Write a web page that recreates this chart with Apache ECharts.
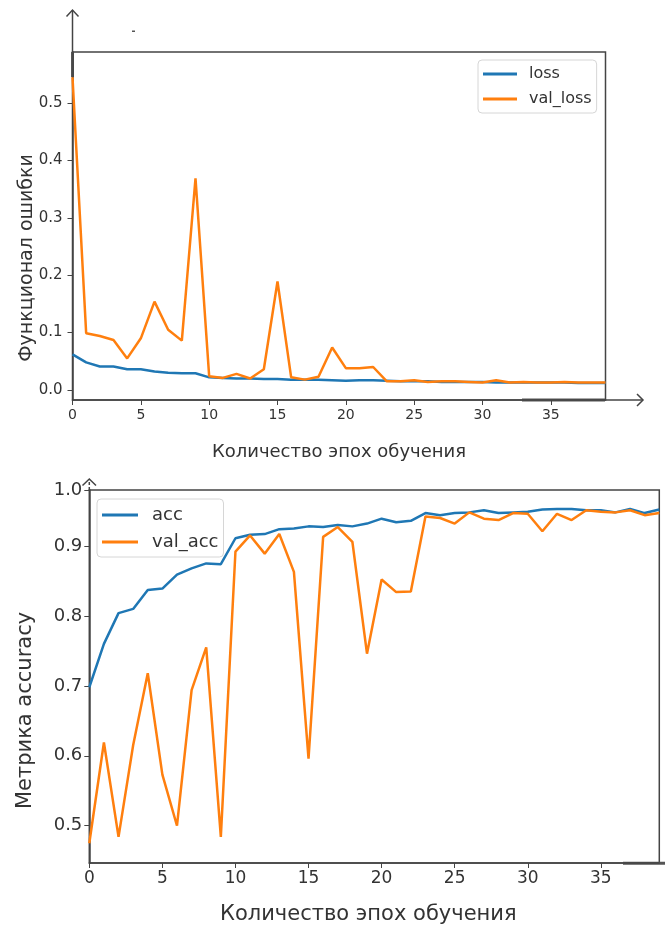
<!DOCTYPE html>
<html>
<head>
<meta charset="utf-8">
<script src="https://cdn.jsdelivr.net/npm/echarts@6/dist/echarts.min.js"></script>
<style>
  html, body { margin: 0; padding: 0; background: #fff; }
  #chart { width: 665px; height: 926px; }
</style>
</head>
<body>
<div id="chart"></div>
<script>
// эпохи обучения
const epochs = [0, 1, 2, 3, 4, 5, 6, 7, 8, 9, 10, 11, 12, 13, 14, 15, 16, 17, 18, 19,
  20, 21, 22, 23, 24, 25, 26, 27, 28, 29, 30, 31, 32, 33, 34, 35, 36, 37, 38, 39];

const loss = [0.062, 0.048, 0.041, 0.041, 0.036, 0.036, 0.032, 0.030, 0.029, 0.029,
  0.022, 0.021, 0.020, 0.020, 0.019, 0.019, 0.018, 0.018, 0.018, 0.017,
  0.016, 0.017, 0.017, 0.016, 0.015, 0.015, 0.015, 0.014, 0.014, 0.014,
  0.014, 0.013, 0.013, 0.013, 0.013, 0.013, 0.013, 0.012, 0.012, 0.012];
const valLoss = [0.545, 0.099, 0.094, 0.087, 0.055, 0.090, 0.154, 0.105, 0.086, 0.369,
  0.024, 0.021, 0.028, 0.020, 0.036, 0.189, 0.022, 0.018, 0.023, 0.074,
  0.038, 0.038, 0.040, 0.015, 0.015, 0.017, 0.014, 0.015, 0.015, 0.014,
  0.013, 0.017, 0.013, 0.014, 0.013, 0.013, 0.014, 0.013, 0.013, 0.013];

const acc = [0.698, 0.760, 0.804, 0.810, 0.837, 0.839, 0.859, 0.868, 0.875, 0.874,
  0.911, 0.916, 0.917, 0.924, 0.925, 0.928, 0.927, 0.930, 0.928, 0.932,
  0.939, 0.934, 0.936, 0.947, 0.944, 0.947, 0.948, 0.951, 0.947, 0.948,
  0.949, 0.952, 0.953, 0.953, 0.951, 0.951, 0.948, 0.953, 0.947, 0.952];
const valAcc = [0.475, 0.619, 0.484, 0.615, 0.718, 0.573, 0.500, 0.694, 0.755, 0.484,
  0.892, 0.915, 0.889, 0.917, 0.863, 0.596, 0.913, 0.927, 0.906, 0.746,
  0.852, 0.834, 0.835, 0.942, 0.940, 0.932, 0.948, 0.939, 0.937, 0.947,
  0.946, 0.921, 0.946, 0.937, 0.951, 0.949, 0.948, 0.951, 0.944, 0.947];

// подписи осей
const xTicks = [0, 5, 10, 15, 20, 25, 30, 35];
const lossTicks = [0.0, 0.1, 0.2, 0.3, 0.4, 0.5];
const accTicks = [0.5, 0.6, 0.7, 0.8, 0.9, 0.98]; // верхняя подпись "1.0" стоит у края рамки

const BLUE = "#1f77b4";
const ORANGE = "#ff7f0e";
const AXIS = "#444";
const FONT = "DejaVu Sans";

const pairs = (ys) => epochs.map((e, i) => [e, ys[i]]);

function xAxisFor(gridIndex, fontSize, margin, name, nameGap, namePad) {
  return {
    type: "value",
    gridIndex: gridIndex,
    min: 0,
    max: 39,
    name: name,
    nameLocation: "middle",
    nameGap: nameGap,
    nameTextStyle: { fontFamily: FONT, fontSize: fontSize + 4, color: "#333", padding: namePad },
    axisLine: { show: true, onZero: false, lineStyle: { color: AXIS, width: 1.5 } },
    axisTick: { show: true, length: 5, customValues: xTicks, lineStyle: { color: AXIS } },
    axisLabel: {
      customValues: xTicks,
      margin: margin,
      fontFamily: FONT,
      fontSize: fontSize,
      color: "#333"
    },
    splitLine: { show: false }
  };
}

function yAxisFor(gridIndex, min, max, ticks, fontSize, margin, name, nameSize, nameGap, namePad) {
  return {
    type: "value",
    gridIndex: gridIndex,
    min: min,
    max: max,
    name: name,
    nameLocation: "middle",
    nameRotate: 90,
    nameGap: nameGap,
    nameMoveOverlap: false,
    nameTextStyle: { fontFamily: FONT, fontSize: nameSize, color: "#333", padding: namePad },
    axisLine: { show: true, onZero: false, lineStyle: { color: AXIS, width: 1.5 } },
    axisTick: { show: true, length: 5, customValues: ticks, lineStyle: { color: AXIS } },
    axisLabel: {
      customValues: ticks,
      margin: margin,
      fontFamily: FONT,
      fontSize: fontSize,
      color: "#333",
      formatter: (v) => v.toFixed(1)
    },
    splitLine: { show: false }
  };
}

function lineSeries(name, data, color, idx) {
  return {
    name: name,
    type: "line",
    xAxisIndex: idx,
    yAxisIndex: idx,
    data: pairs(data),
    showSymbol: false,
    symbol: "none",
    lineStyle: { color: color, width: 2.5 },
    itemStyle: { color: color },
    animation: false
  };
}

const chart = echarts.init(document.getElementById("chart"), null, { renderer: "canvas" });

chart.setOption({
  backgroundColor: "#fff",
  animation: false,
  grid: [
    { left: 72.5, top: 52, width: 533, height: 348, show: true, borderColor: AXIS, borderWidth: 1.5 },
    { left: 89.3, top: 490, width: 570, height: 373.3, show: true, borderColor: AXIS, borderWidth: 1.5 }
  ],
  xAxis: [
    xAxisFor(0, 14, 8, "Количество эпох обучения", 43, [0, 0, 0, 0]),
    xAxisFor(1, 17, 7, "Количество эпох обучения", 41, [0, 12, 0, 0])
  ],
  yAxis: [
    yAxisFor(0, -0.0175, 0.589, lossTicks, 15, 10, "Функционал ошибки", 19, 36, [0, 64, 0, 0]),
    yAxisFor(1, 0.4467, 0.98, accTicks, 18, 7, "Метрика accuracy", 21, 53, [0, 68, 0, 0])
  ],
  legend: [
    {
      data: ["loss", "val_loss"],
      orient: "vertical",
      left: 478,
      top: 60,
      padding: [6, 5, 6, 5],
      itemGap: 9,
      itemWidth: 34,
      itemHeight: 3,
      icon: "rect",
      borderColor: "#d6d6d6",
      borderWidth: 1,
      borderRadius: 4,
      backgroundColor: "rgba(255,255,255,0.85)",
      textStyle: { fontFamily: FONT, fontSize: 16, color: "#333", padding: [0, 0, 0, 7] }
    },
    {
      data: ["acc", "val_acc"],
      orient: "vertical",
      left: 97,
      top: 499,
      padding: [7, 5, 6, 5],
      itemGap: 9,
      itemWidth: 36,
      itemHeight: 3,
      icon: "rect",
      borderColor: "#d6d6d6",
      borderWidth: 1,
      borderRadius: 4,
      backgroundColor: "rgba(255,255,255,0.85)",
      textStyle: { fontFamily: FONT, fontSize: 18, color: "#333", padding: [0, 0, 0, 9] }
    }
  ],
  series: [
    lineSeries("loss", loss, BLUE, 0),
    lineSeries("val_loss", valLoss, ORANGE, 0),
    lineSeries("acc", acc, BLUE, 1),
    lineSeries("val_acc", valAcc, ORANGE, 1)
  ],
  // дорисованные от руки стрелки осей
  graphic: [
    { type: "line", shape: { x1: 72.5, y1: 52, x2: 72.5, y2: 10 }, style: { stroke: AXIS, lineWidth: 1.5 } },
    { type: "line", shape: { x1: 72.5, y1: 52, x2: 72.5, y2: 77 }, style: { stroke: "#555", lineWidth: 3 } },
    { type: "polyline", shape: { points: [[66.5, 16.5], [72.5, 10], [78.5, 16.5]] }, style: { stroke: AXIS, lineWidth: 1.5, fill: null } },
    { type: "line", shape: { x1: 605, y1: 400, x2: 643, y2: 400 }, style: { stroke: AXIS, lineWidth: 1.5 } },
    { type: "line", shape: { x1: 522, y1: 400, x2: 605, y2: 400 }, style: { stroke: "#555", lineWidth: 3 } },
    { type: "polyline", shape: { points: [[637, 394], [643, 400], [637, 406]] }, style: { stroke: AXIS, lineWidth: 1.5, fill: null } },
    { type: "rect", shape: { x: 132, y: 30.5, width: 3, height: 1.5 }, style: { fill: "#555" } },
    { type: "line", shape: { x1: 89.3, y1: 490, x2: 89.3, y2: 480 }, style: { stroke: AXIS, lineWidth: 1.5, lineDash: [3, 2] } },
    { type: "polyline", shape: { points: [[82.5, 485.5], [89.3, 479], [96, 485.5]] }, style: { stroke: AXIS, lineWidth: 1.5, fill: null } },
    { type: "line", shape: { x1: 623, y1: 863.3, x2: 665, y2: 863.3 }, style: { stroke: "#555", lineWidth: 3 } }
  ]
});
</script>
</body>
</html>
